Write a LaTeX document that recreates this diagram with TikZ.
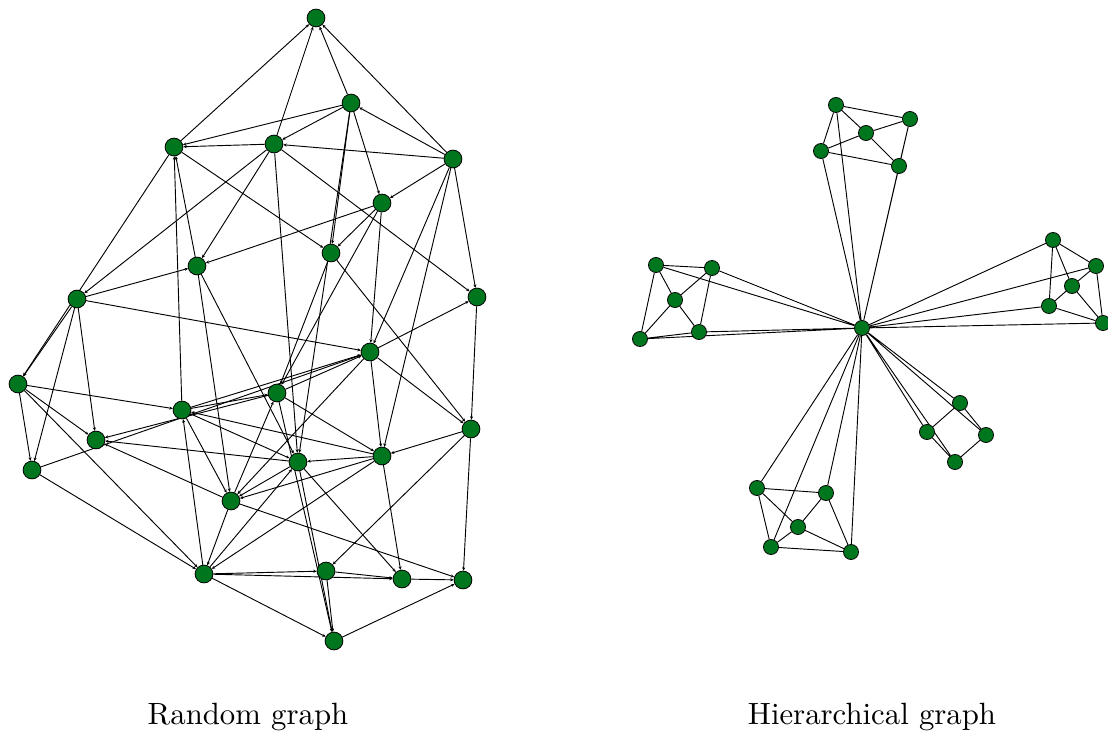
\documentclass[tikz,border=0pt]{standalone}
\usetikzlibrary{arrows.meta,backgrounds}
\definecolor{nodegreen}{RGB}{0,118,30}
\tikzset{
  vtx/.style={circle,draw=black,line width=0.25pt,fill=nodegreen,inner sep=0pt,minimum size=5.8pt},
  hvtx/.style={vtx,minimum size=4.9pt},
  edge/.style={line width=0.3pt,-{Stealth[length=1.1pt,width=1pt]}},
  hedge/.style={line width=0.3pt}
}
\begin{document}
\begin{tikzpicture}[x=0.325pt,y=-0.325pt]
\useasboundingbox (0,0) rectangle (1108,735);

% random graph
\node[vtx] (a) at (316,18) {};
\node[vtx] (b) at (351,103) {};
\node[vtx] (c) at (174,147) {};
\node[vtx] (d) at (274,144) {};
\node[vtx] (e) at (453,159) {};
\node[vtx] (f) at (382,203) {};
\node[vtx] (g) at (331,253) {};
\node[vtx] (h) at (197,266) {};
\node[vtx] (i) at (77,299) {};
\node[vtx] (j) at (477,297) {};
\node[vtx] (k) at (370,352) {};
\node[vtx] (l) at (18,384) {};
\node[vtx] (m) at (277,393) {};
\node[vtx] (n) at (182,410) {};
\node[vtx] (o) at (471,429) {};
\node[vtx] (p) at (96,440) {};
\node[vtx] (q) at (32,470) {};
\node[vtx] (r) at (298,462) {};
\node[vtx] (s) at (382,456) {};
\node[vtx] (t) at (231,501) {};
\node[vtx] (u) at (204,574) {};
\node[vtx] (v) at (326,571) {};
\node[vtx] (w) at (402,579) {};
\node[vtx] (x) at (463,580) {};
\node[vtx] (y) at (334,641) {};

\begin{scope}[on background layer]
  \foreach \src/\dst in {b/a,c/a,d/a,e/a,b/c,b/d,e/b,b/f,b/g,b/r,
      d/c,h/c,n/c,c/g,c/l,e/d,d/h,d/i,d/r,d/j,
      e/f,e/j,e/k,e/s,f/h,f/g,f/k,f/m,g/m,g/o,
      i/h,h/t,h/r,i/k,i/l,i/q,i/p,l/q,l/n,l/p,l/u,
      r/p,t/p,m/p,q/k,n/m,n/k,s/n,n/t,n/r,u/n,
      m/k,t/m,m/s,m/y,k/s,k/o,k/j,k/t,j/o,
      o/s,o/v,o/x,s/r,s/t,s/w,s/u,r/y,r/w,u/r,r/t,
      t/u,t/x,u/v,u/w,u/y,q/u,v/w,v/y,w/x,y/x}
    \draw[edge] (\src) -- (\dst);
\end{scope}

% hierarchical graph
\node[hvtx] (hub) at (862,328) {};
\node[hvtx] (t1) at (836,105) {};
\node[hvtx] (t2) at (910,119) {};
\node[hvtx] (t3) at (866,133) {};
\node[hvtx] (t4) at (821,151) {};
\node[hvtx] (t5) at (899,166) {};
\node[hvtx] (l1) at (656,265) {};
\node[hvtx] (l2) at (712,268) {};
\node[hvtx] (l3) at (675,300) {};
\node[hvtx] (l4) at (640,339) {};
\node[hvtx] (l5) at (699,332) {};
\node[hvtx] (r1) at (1053,240) {};
\node[hvtx] (r2) at (1096,266) {};
\node[hvtx] (r3) at (1072,286) {};
\node[hvtx] (r4) at (1049,306) {};
\node[hvtx] (r5) at (1103,323) {};
\node[hvtx] (b1) at (960,403) {};
\node[hvtx] (b2) at (927,432) {};
\node[hvtx] (b3) at (986,435) {};
\node[hvtx] (b4) at (955,462) {};
\node[hvtx] (d1) at (757,488) {};
\node[hvtx] (d2) at (826,493) {};
\node[hvtx] (d3) at (798,527) {};
\node[hvtx] (d4) at (771,547) {};
\node[hvtx] (d5) at (851,552) {};

\begin{scope}[on background layer]
  \draw[hedge] (hub) -- (t1) (hub) -- (t2) (hub) -- (t4) (hub) -- (t5)
    (t1) -- (t2) (t2) -- (t5) (t5) -- (t4) (t4) -- (t1)
    (t3) -- (t1) (t3) -- (t2) (t3) -- (t4) (t3) -- (t5);
  \draw[hedge] (hub) -- (l1) (hub) -- (l2) (hub) -- (l4) (hub) -- (l5)
    (l1) -- (l2) (l2) -- (l5) (l5) -- (l4) (l4) -- (l1)
    (l3) -- (l1) (l3) -- (l2) (l3) -- (l4) (l3) -- (l5);
  \draw[hedge] (hub) -- (r1) (hub) -- (r2) (hub) -- (r4) (hub) -- (r5)
    (r1) -- (r2) (r2) -- (r5) (r5) -- (r4) (r4) -- (r1)
    (r3) -- (r1) (r3) -- (r2) (r3) -- (r4) (r3) -- (r5);
  \draw[hedge] (hub) -- (b1) (hub) -- (b2) (hub) -- (b3) (hub) -- (b4)
    (b1) -- (b3) (b3) -- (b4) (b4) -- (b2) (b2) -- (b1);
  \draw[hedge] (hub) -- (d1) (hub) -- (d2) (hub) -- (d4) (hub) -- (d5)
    (d1) -- (d2) (d2) -- (d5) (d5) -- (d4) (d4) -- (d1)
    (d3) -- (d1) (d3) -- (d2) (d3) -- (d4) (d3) -- (d5);
\end{scope}

\node (rlabel) at (248,717) {Random graph};
\node (hlabel) at (872,717) {Hierarchical graph};

\end{tikzpicture}
\end{document}
